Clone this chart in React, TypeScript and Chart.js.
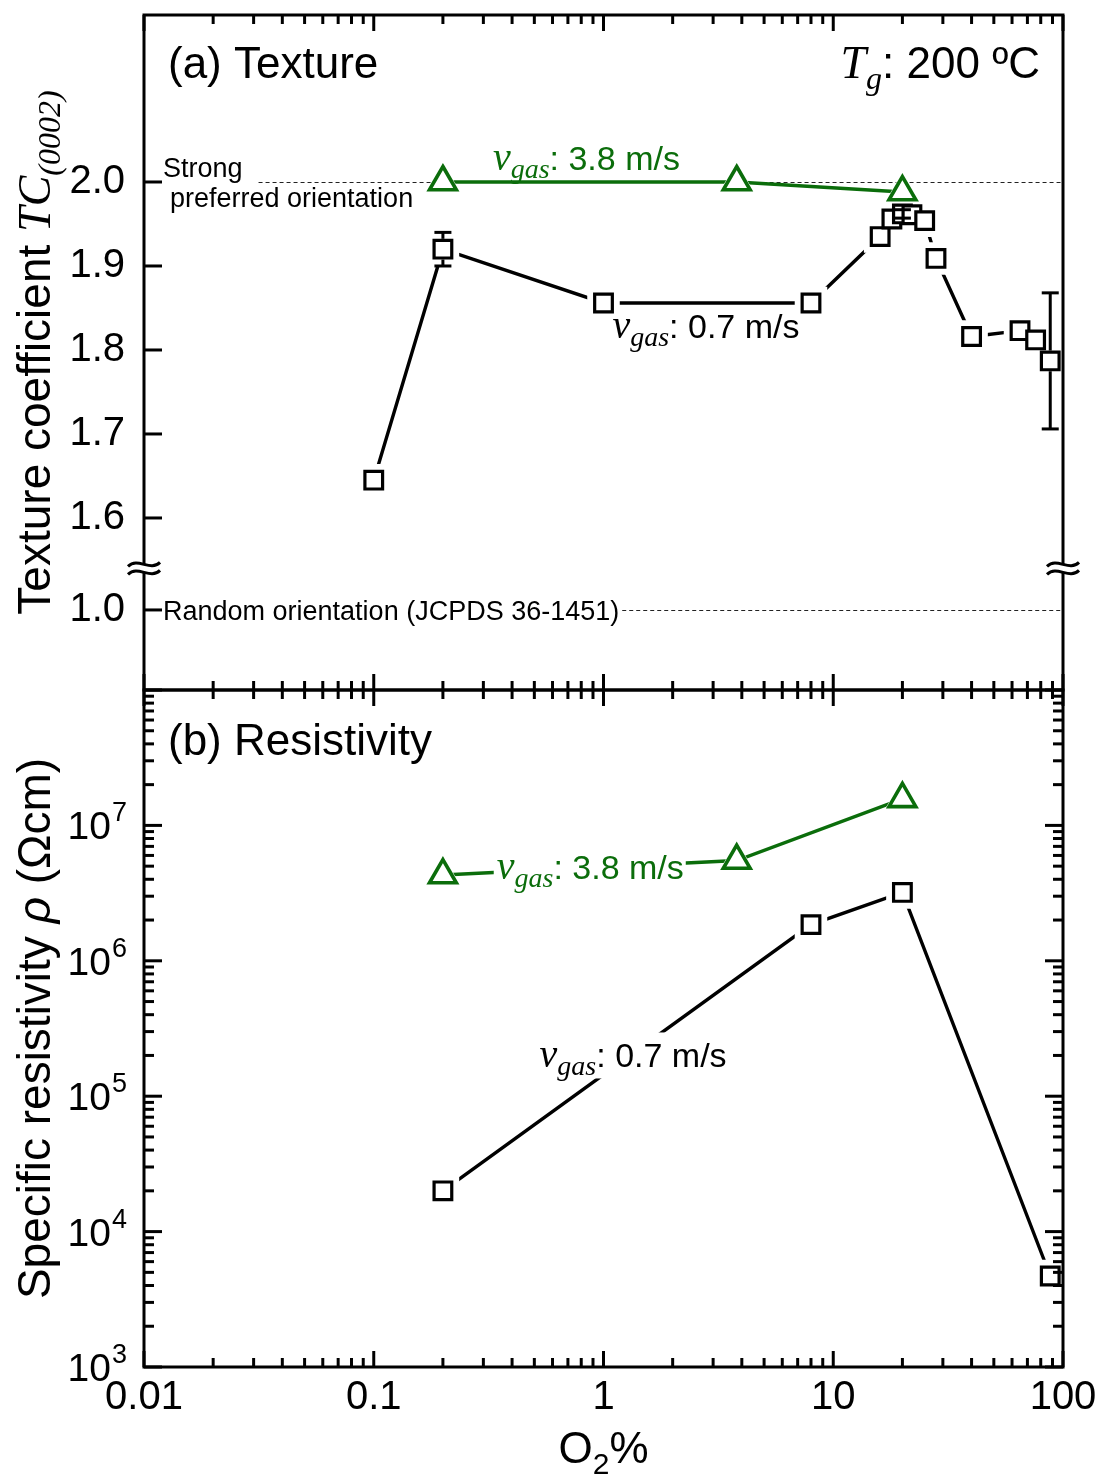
import React, { useEffect, useRef } from 'react';
import { Chart, registerables } from 'chart.js';

Chart.register(...registerables);

// ---------------- data ----------------
// (a) texture coefficient, v_gas 0.7 m/s
const O2_TC_LOW = [0.1, 0.2, 1, 8, 16, 18, 20, 22, 25, 28, 40, 65, 76, 88];
const TC_LOW = [1.645, 1.92, 1.856, 1.856, 1.935, 1.956, 1.962, 1.961, 1.954, 1.909, 1.816, 1.823, 1.812, 1.787];
const TC_LOW_ERR = [0, 0.02, 0, 0, 0, 0, 0.005, 0, 0, 0, 0, 0, 0, 0.081];
// (a) texture coefficient, v_gas 3.8 m/s
const O2_TC_HIGH = [0.2, 3.8, 20];
const TC_HIGH = [2.0, 2.0, 1.988];
// (b) resistivity, v_gas 0.7 m/s
const O2_RHO_LOW = [0.2, 8, 20, 88];
const RHO_LOW = [2.0e4, 1.85e6, 3.2e6, 4.7e3];
// (b) resistivity, v_gas 3.8 m/s
const O2_RHO_HIGH = [0.2, 3.8, 20];
const RHO_HIGH = [4.3e6, 5.5e6, 1.57e7];

// axes / ticks
const X_DECADES = [0.01, 0.1, 1, 10, 100];
const X_TICK_LABELS = ['0.01', '0.1', '1', '10', '100'];
const TC_TICKS = [1.6, 1.7, 1.8, 1.9, 2.0];
const TC_RANDOM = 1.0; // JCPDS 36-1451 random orientation
const TC_STRONG = 2.0; // strong preferred orientation
const RHO_DECADES = [1e3, 1e4, 1e5, 1e6, 1e7, 1e8];
const RHO_LABELED = [1e3, 1e4, 1e5, 1e6, 1e7];
const RHO_EXPONENTS = ['3', '4', '5', '6', '7'];

// broken TC axis: values below the break are shifted up
const TC_VIEW_MIN = 1.3952;
const TC_VIEW_MAX = 2.1988;
const TC_BREAK_SHIFT = 0.4905;
const TC_BREAK_MARK = 1.54;
const tcView = (v: number) => (v < 1.5 ? v + TC_BREAK_SHIFT : v);

// annotation anchors (data coordinates)
const LBL_TC_HIGH = { x: 0.33, y: 2.014 };
const LBL_TC_LOW = { x: 1.094, y: 1.8143 };
const LBL_RHO_HIGH = { x: 0.343, y: 3.99e6 };
const LBL_RHO_LOW = { x: 0.527, y: 1.63e5 };

// ---------------- styles ----------------
const SANS = '"Liberation Sans", Arial, sans-serif';
const SERIF = '"Liberation Serif", "Times New Roman", serif';
const GREEN = '#0b6d0b';
const BLACK = '#000000';
const SQ_R = 12.5;
const SQ_HALO = 23;
const TRI_R = 15.5;
const TRI_HALO = 20;

const withMinor = (decades: number[]) => {
  const out: { v: number; major: boolean }[] = [];
  decades.forEach((d, i) => {
    out.push({ v: d, major: true });
    if (i < decades.length - 1) for (let k = 2; k <= 9; k++) out.push({ v: k * d, major: false });
  });
  return out;
};
const X_TICKS_ALL = withMinor(X_DECADES);
const RHO_TICKS_ALL = withMinor(RHO_DECADES);

const pts = (xs: number[], ys: number[]) => xs.map((x, i) => ({ x, y: ys[i] }));

const lineDs = (data: any, color: string) => ({
  data, borderColor: color, borderWidth: 3.4, pointRadius: 0, fill: false, tension: 0, order: 3,
});
const haloDs = (data: any, style: string, r: number) => ({
  data, showLine: false, pointStyle: style, pointRadius: r, pointBackgroundColor: '#fff',
  pointBorderColor: '#fff', pointBorderWidth: 0, order: 2,
});
const markDs = (data: any, style: string, r: number, color: string, bw: number) => ({
  data, showLine: false, pointStyle: style, pointRadius: r, pointBackgroundColor: '#fff',
  pointBorderColor: color, pointBorderWidth: bw, order: 1,
});

function seg(ctx: CanvasRenderingContext2D, x1: number, y1: number, x2: number, y2: number) {
  ctx.beginPath();
  ctx.moveTo(x1, y1);
  ctx.lineTo(x2, y2);
  ctx.stroke();
}

type Run = { t: string; f: string; dy?: number };
function runsWidth(ctx: CanvasRenderingContext2D, runs: Run[]) {
  let w = 0;
  for (const r of runs) { ctx.font = r.f; w += ctx.measureText(r.t).width; }
  return w;
}
function drawRuns(ctx: CanvasRenderingContext2D, runs: Run[], x: number, y: number) {
  ctx.textAlign = 'left';
  ctx.textBaseline = 'alphabetic';
  for (const r of runs) {
    ctx.font = r.f;
    ctx.fillText(r.t, x, y + (r.dy || 0));
    x += ctx.measureText(r.t).width;
  }
}
const vgasRuns = (rest: string): Run[] => [
  { t: 'v', f: `italic 40px ${SERIF}` },
  { t: 'gas', f: `italic 28px ${SERIF}`, dy: 8 },
  { t: rest, f: `34px ${SANS}` },
];

function drawVTitle(ctx: CanvasRenderingContext2D, runs: Run[], x: number, cy: number) {
  const w = runsWidth(ctx, runs);
  ctx.save();
  ctx.translate(x, cy);
  ctx.rotate(-Math.PI / 2);
  ctx.fillStyle = BLACK;
  drawRuns(ctx, runs, -w / 2, 0);
  ctx.restore();
}

function drawXTicks(chart: any, top: boolean, bottom: boolean) {
  const { ctx, chartArea: ca, scales } = chart;
  for (const t of X_TICKS_ALL) {
    const px = scales.x.getPixelForValue(t.v);
    const len = t.major ? 16 : 9;
    if (top) seg(ctx, px, ca.top, px, ca.top + len);
    if (bottom) seg(ctx, px, ca.bottom, px, ca.bottom - len);
  }
}

function drawBreak(ctx: CanvasRenderingContext2D, cx: number, cy: number) {
  ctx.fillStyle = '#fff';
  ctx.fillRect(cx - 3, cy - 4, 6, 8);
  for (const oy of [-4, 4]) {
    ctx.beginPath();
    ctx.moveTo(cx - 16, cy + oy + 2);
    ctx.bezierCurveTo(cx - 6, cy + oy - 8, cx + 6, cy + oy + 8, cx + 16, cy + oy - 2);
    ctx.stroke();
  }
}

const noPad = (s: any) => {
  s.paddingTop = 0;
  s.paddingBottom = 0;
  s.paddingLeft = 0;
  s.paddingRight = 0;
};

// ---------------- top panel decoration ----------------
const topDecor = {
  id: 'topDecor',
  beforeDatasetsDraw(chart: any) {
    const { ctx, chartArea: ca, scales } = chart;
    ctx.save();
    ctx.strokeStyle = '#222';
    ctx.lineWidth = 1;
    ctx.setLineDash([4, 3]);
    ctx.font = `27px ${SANS}`;
    const yS = Math.round(scales.y.getPixelForValue(TC_STRONG)) + 0.5;
    const xS = ca.left + 19 + ctx.measureText('Strong').width + 16;
    seg(ctx, xS, yS, ca.right, yS);
    const yR = Math.round(scales.y.getPixelForValue(tcView(TC_RANDOM))) + 0.5;
    const xR = ca.left + 19 + ctx.measureText('Random orientation (JCPDS 36-1451)').width + 3;
    seg(ctx, xR, yR, ca.right, yR);
    ctx.restore();
  },
  afterDatasetsDraw(chart: any) {
    const { ctx, scales } = chart;
    ctx.save();
    ctx.strokeStyle = BLACK;
    ctx.lineWidth = 3;
    const h = SQ_R * Math.SQRT1_2 + 1.5;
    O2_TC_LOW.forEach((xv, i) => {
      const e = TC_LOW_ERR[i];
      if (!e) return;
      const px = scales.x.getPixelForValue(xv);
      const py = scales.y.getPixelForValue(TC_LOW[i]);
      const yt = scales.y.getPixelForValue(TC_LOW[i] + e);
      const yb = scales.y.getPixelForValue(TC_LOW[i] - e);
      if (yt < py - h) seg(ctx, px, yt, px, py - h);
      if (yb > py + h) seg(ctx, px, py + h, px, yb);
      seg(ctx, px - 8.5, yt, px + 8.5, yt);
      seg(ctx, px - 8.5, yb, px + 8.5, yb);
    });
    ctx.restore();
  },
  afterDraw(chart: any) {
    const { ctx, chartArea: ca, scales } = chart;
    ctx.save();
    ctx.strokeStyle = BLACK;
    ctx.lineWidth = 3;
    ctx.setLineDash([]);
    drawXTicks(chart, true, true);
    for (const v of [TC_RANDOM, ...TC_TICKS]) {
      const py = scales.y.getPixelForValue(tcView(v));
      seg(ctx, ca.left, py, ca.left + 18, py);
    }
    ctx.strokeRect(ca.left, ca.top, ca.right - ca.left, ca.bottom - ca.top);
    const by = scales.y.getPixelForValue(TC_BREAK_MARK);
    drawBreak(ctx, ca.left, by);
    drawBreak(ctx, ca.right, by);

    // texts
    ctx.fillStyle = BLACK;
    ctx.textAlign = 'left';
    ctx.textBaseline = 'alphabetic';
    ctx.font = `44px ${SANS}`;
    ctx.fillText('(a) Texture', ca.left + 24, ca.top + 63);
    const tg: Run[] = [
      { t: 'T', f: `italic 46px ${SERIF}` },
      { t: 'g', f: `italic 32px ${SERIF}`, dy: 11 },
      { t: ': 200 ºC', f: `44px ${SANS}` },
    ];
    drawRuns(ctx, tg, ca.right - 23 - runsWidth(ctx, tg), ca.top + 63);

    ctx.font = `27px ${SANS}`;
    const yS = scales.y.getPixelForValue(TC_STRONG);
    ctx.fillText('Strong', ca.left + 19, yS - 5);
    ctx.fillText('preferred orientation', ca.left + 26, yS + 25);
    const yR = scales.y.getPixelForValue(tcView(TC_RANDOM));
    ctx.fillText('Random orientation (JCPDS 36-1451)', ca.left + 19, yR + 10);

    ctx.fillStyle = GREEN;
    drawRuns(ctx, vgasRuns(': 3.8 m/s'), scales.x.getPixelForValue(LBL_TC_HIGH.x), scales.y.getPixelForValue(LBL_TC_HIGH.y));
    ctx.fillStyle = BLACK;
    drawRuns(ctx, vgasRuns(': 0.7 m/s'), scales.x.getPixelForValue(LBL_TC_LOW.x), scales.y.getPixelForValue(LBL_TC_LOW.y));

    drawVTitle(ctx, [
      { t: 'Texture coefficient ', f: `46px ${SANS}` },
      { t: 'TC', f: `italic 46px ${SERIF}` },
      { t: '(0002)', f: `italic 32px ${SERIF}`, dy: 10 },
    ], 50, (ca.top + ca.bottom) / 2);
    ctx.restore();
  },
};

// ---------------- bottom panel decoration ----------------
const bottomDecor = {
  id: 'bottomDecor',
  afterDatasetsDraw(chart: any) {
    const { ctx, scales } = chart;
    ctx.save();
    const masked = (rest: string, color: string, x0: number, yb: number) => {
      const runs = vgasRuns(rest);
      const w = runsWidth(ctx, runs);
      ctx.fillStyle = '#fff';
      ctx.fillRect(x0 - 3, yb - 35, w + 5, 46);
      ctx.fillStyle = color;
      drawRuns(ctx, runs, x0, yb);
    };
    masked(': 3.8 m/s', GREEN, scales.x.getPixelForValue(LBL_RHO_HIGH.x), scales.y.getPixelForValue(LBL_RHO_HIGH.y));
    masked(': 0.7 m/s', BLACK, scales.x.getPixelForValue(LBL_RHO_LOW.x), scales.y.getPixelForValue(LBL_RHO_LOW.y));
    ctx.restore();
  },
  afterDraw(chart: any) {
    const { ctx, chartArea: ca, scales } = chart;
    ctx.save();
    ctx.strokeStyle = BLACK;
    ctx.lineWidth = 3;
    drawXTicks(chart, true, true);
    for (const t of RHO_TICKS_ALL) {
      const py = scales.y.getPixelForValue(t.v);
      const len = t.major ? 18 : 10;
      seg(ctx, ca.left, py, ca.left + len, py);
      seg(ctx, ca.right, py, ca.right - len, py);
    }
    ctx.strokeRect(ca.left, ca.top, ca.right - ca.left, ca.bottom - ca.top);

    // y tick labels 10^n
    ctx.fillStyle = BLACK;
    ctx.textBaseline = 'alphabetic';
    RHO_LABELED.forEach((v, i) => {
      const py = scales.y.getPixelForValue(v);
      const xr = ca.left - 17;
      ctx.font = `27px ${SANS}`;
      const we = ctx.measureText(RHO_EXPONENTS[i]).width;
      ctx.textAlign = 'right';
      ctx.fillText(RHO_EXPONENTS[i], xr, py - 4);
      ctx.font = `39px ${SANS}`;
      ctx.fillText('10', xr - we - 1, py + 14);
    });

    ctx.textAlign = 'left';
    ctx.font = `44px ${SANS}`;
    ctx.fillText('(b) Resistivity', ca.left + 24, ca.top + 65);

    const xt: Run[] = [
      { t: 'O', f: `44px ${SANS}` },
      { t: '2', f: `30px ${SANS}`, dy: 11 },
      { t: '%', f: `44px ${SANS}` },
    ];
    drawRuns(ctx, xt, (ca.left + ca.right) / 2 - runsWidth(ctx, xt) / 2, ca.bottom + 96);

    drawVTitle(ctx, [
      { t: 'Specific resistivity ', f: `46px ${SANS}` },
      { t: 'ρ', f: `italic 46px ${SANS}` },
      { t: ' (Ωcm)', f: `46px ${SANS}` },
    ], 50, (ca.top + ca.bottom) / 2);
    ctx.restore();
  },
};

const hiddenGrid = { display: false, drawTicks: false };

function topConfig(): any {
  const low = pts(O2_TC_LOW, TC_LOW);
  const high = pts(O2_TC_HIGH, TC_HIGH);
  return {
    type: 'line',
    data: {
      datasets: [
        lineDs(low, BLACK),
        lineDs(high, GREEN),
        haloDs(low, 'rect', SQ_HALO),
        haloDs(high, 'triangle', TRI_HALO),
        markDs(low, 'rect', SQ_R, BLACK, 3.2),
        markDs(high, 'triangle', TRI_R, GREEN, 3.6),
      ],
    },
    options: {
      responsive: false,
      animation: false,
      events: [],
      layout: { autoPadding: false, padding: { top: 15, right: 39, left: 0, bottom: 0 } },
      plugins: { legend: { display: false }, tooltip: { enabled: false } },
      scales: {
        x: {
          type: 'logarithmic', min: X_DECADES[0], max: X_DECADES[X_DECADES.length - 1],
          grid: hiddenGrid, border: { display: false }, ticks: { display: false },
          afterBuildTicks: (s: any) => { s.ticks = X_DECADES.map((v) => ({ value: v })); },
          afterFit: (s: any) => { s.height = 10; noPad(s); },
        },
        y: {
          type: 'linear', min: TC_VIEW_MIN, max: TC_VIEW_MAX,
          grid: { display: false, drawTicks: true, tickLength: 19 },
          border: { display: false },
          ticks: {
            padding: 0, color: BLACK, autoSkip: false,
            font: { family: SANS, size: 40 },
            callback: (v: number) => (v < 1.5 ? (v - TC_BREAK_SHIFT) : v).toFixed(1),
          },
          afterBuildTicks: (s: any) => {
            s.ticks = [TC_RANDOM, ...TC_TICKS].map((v) => ({ value: tcView(v) }));
          },
          afterFit: (s: any) => { s.width = 144; noPad(s); },
        },
      },
    },
    plugins: [topDecor],
  };
}

function bottomConfig(): any {
  const low = pts(O2_RHO_LOW, RHO_LOW);
  const high = pts(O2_RHO_HIGH, RHO_HIGH);
  return {
    type: 'line',
    data: {
      datasets: [
        lineDs(low, BLACK),
        lineDs(high, GREEN),
        haloDs(low, 'rect', SQ_HALO),
        haloDs(high, 'triangle', TRI_HALO),
        markDs(low, 'rect', SQ_R, BLACK, 3.2),
        markDs(high, 'triangle', TRI_R, GREEN, 3.6),
      ],
    },
    options: {
      responsive: false,
      animation: false,
      events: [],
      layout: { autoPadding: false, padding: { top: 10, right: 39, left: 0, bottom: 0 } },
      plugins: { legend: { display: false }, tooltip: { enabled: false } },
      scales: {
        x: {
          type: 'logarithmic', min: X_DECADES[0], max: X_DECADES[X_DECADES.length - 1],
          grid: { display: false, drawTicks: true, tickLength: 7 },
          border: { display: false },
          ticks: {
            padding: 0, color: BLACK, autoSkip: false, maxRotation: 0, minRotation: 0,
            font: { family: SANS, size: 40 },
            callback: (v: number) => {
              const k = X_DECADES.findIndex((d) => Math.abs(d - v) < d * 1e-6);
              return k >= 0 ? X_TICK_LABELS[k] : '';
            },
          },
          afterBuildTicks: (s: any) => { s.ticks = X_DECADES.map((v) => ({ value: v })); },
          afterFit: (s: any) => { s.height = 110; noPad(s); },
        },
        y: {
          type: 'logarithmic', min: RHO_DECADES[0], max: RHO_DECADES[RHO_DECADES.length - 1],
          grid: hiddenGrid, border: { display: false }, ticks: { display: false },
          afterBuildTicks: (s: any) => { s.ticks = RHO_DECADES.map((v) => ({ value: v })); },
          afterFit: (s: any) => { s.width = 144; noPad(s); },
        },
      },
    },
    plugins: [bottomDecor],
  };
}

export default function App() {
  const topRef = useRef<HTMLCanvasElement>(null);
  const botRef = useRef<HTMLCanvasElement>(null);
  useEffect(() => {
    const c1 = new Chart(topRef.current as HTMLCanvasElement, topConfig());
    const c2 = new Chart(botRef.current as HTMLCanvasElement, bottomConfig());
    return () => {
      c1.destroy();
      c2.destroy();
    };
  }, []);
  return (
    <div style={{ position: 'fixed', left: 0, top: 0, width: 1102, height: 1477, background: '#fff' }}>
      <canvas ref={topRef} width={1102} height={700}
        style={{ position: 'absolute', left: 0, top: 0, width: 1102, height: 700 }} />
      <canvas ref={botRef} width={1102} height={797}
        style={{ position: 'absolute', left: 0, top: 680, width: 1102, height: 797 }} />
    </div>
  );
}
